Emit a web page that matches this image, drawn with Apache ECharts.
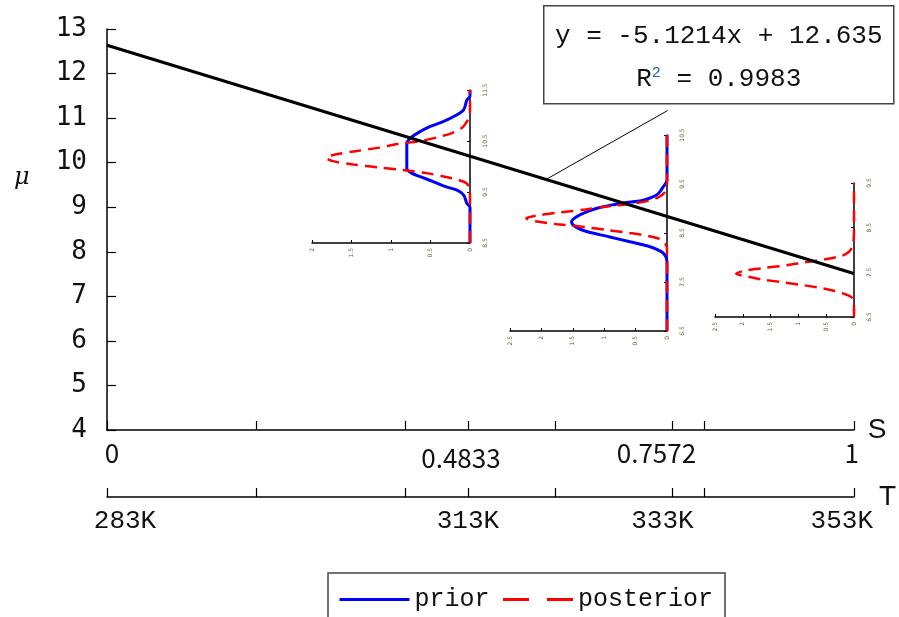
<!DOCTYPE html>
<html>
<head>
<meta charset="utf-8">
<script src="https://cdn.jsdelivr.net/npm/echarts@6/dist/echarts.min.js"></script>
<style>
  html, body { margin: 0; padding: 0; background: #fff; }
  #chart { width: 899px; height: 617px; }
</style>
</head>
<body>
<div id="chart"></div>
<script>
// Linear fit of mu against S
const slope = -5.1214;
const intercept = 12.635;
const rSquared = 0.9983;

// S axis ticks and labelled values
const sTicks = [0, 0.2, 0.4, 0.4833, 0.6, 0.7572, 0.8, 1];
const sLabels = [0, 0.4833, 0.7572, 1];
// Temperatures shown under the labelled S values
const tLabels = ['283K', '313K', '333K', '353K'];

// Vertical (mu) ticks of the three small density plots
const inset1Mu = [8.5, 9.5, 10.5, 11.5];
const inset2Mu = [6.5, 7.5, 8.5, 9.5, 10.5];
const inset3Mu = [6.5, 7.5, 8.5, 9.5];

// Densities as [mu, density] pairs
const prior1 = [[8.5,0],[9.2,0],[9.28,0.04],[9.44,0.08],[9.54,0.17],[9.60,0.30],[9.70,0.46],[9.80,0.63],[9.87,0.74],[9.96,0.80],[10.13,0.80],[10.32,0.80],[10.45,0.80],[10.55,0.76],[10.65,0.67],[10.78,0.51],[10.88,0.34],[11.01,0.17],[11.11,0.08],[11.30,0.04],[11.38,0],[11.5,0]];
const post1 = [[8.5,0],[9.5,0],[9.62,0.02],[9.68,0.05],[9.74,0.15],[9.80,0.32],[9.87,0.55],[9.93,0.85],[9.98,1.15],[10.04,1.48],[10.10,1.72],[10.17,1.82],[10.23,1.72],[10.30,1.45],[10.37,1.15],[10.44,0.92],[10.50,0.62],[10.57,0.42],[10.66,0.22],[10.76,0.10],[10.88,0.04],[11.0,0.01],[11.1,0],[11.5,0]];
const prior2 = [[6.5,0],[7.9,0],[8.09,0.06],[8.22,0.27],[8.32,0.59],[8.42,0.91],[8.53,1.28],[8.63,1.46],[8.73,1.52],[8.83,1.44],[8.93,1.28],[9.02,1.07],[9.11,0.70],[9.17,0.38],[9.28,0.16],[9.44,0.06],[9.58,0],[10.5,0]];
const post2 = [[6.5,0],[8.2,0],[8.3,0.04],[8.38,0.12],[8.44,0.3],[8.50,0.6],[8.56,0.95],[8.62,1.3],[8.68,1.75],[8.74,2.1],[8.80,2.24],[8.86,2.05],[8.92,1.7],[8.98,1.3],[9.04,0.95],[9.10,0.55],[9.16,0.28],[9.24,0.12],[9.34,0.03],[9.45,0],[10.5,0]];
const post3 = [[6.5,0],[6.85,0],[6.95,0.05],[7.03,0.2],[7.10,0.4],[7.16,0.65],[7.22,0.95],[7.28,1.3],[7.34,1.65],[7.40,1.9],[7.47,2.12],[7.54,1.95],[7.60,1.6],[7.66,1.2],[7.72,0.9],[7.79,0.52],[7.87,0.22],[7.95,0.1],[8.05,0.04],[8.2,0.01],[8.4,0],[9.5,0]];

// Leader from the fit line up to the equation box (S values)
const leaderS = [0.588, 0.7507];
const leaderTopMu = 11.17;

const BLUE = '#0000ff';
const RED = '#ff0000';
const INK = '#111';
const MONO = '"Liberation Mono", monospace';

const toXY = arr => arr.map(p => [p[1], p[0]]);
const near = (a, b) => Math.abs(a - b) < 1e-6;

// per-label nudges [dx, dy] for the S and T labels
const sShift = { 0: [5, 0], 1: [-7, 5], 2: [-16, 0], 3: [-2, 0] };
const tShift = { 0: [18, 0], 1: [0, 0], 2: [-10, 0], 3: [-12, 0] };
function richFor(shift, prefix) {
  const r = {};
  Object.keys(shift).forEach(k => {
    const dx = shift[k][0], dy = shift[k][1];
    r[prefix + k] = {
      padding: [dy > 0 ? dy : 0, dx < 0 ? -dx * 2 : 0, 0, dx > 0 ? dx * 2 : 0]
    };
  });
  return r;
}
function labelIndex(v) {
  for (let i = 0; i < sLabels.length; i++) if (near(sLabels[i], v)) return i;
  return 0;
}

function insetX(gridIndex, max) {
  return {
    type: 'value', gridIndex, min: 0, max, interval: 0.5, inverse: true,
    axisLine: { show: true, onZero: false, lineStyle: { color: '#000', width: 1.5 } },
    axisTick: { show: true, inside: true, length: 3, lineStyle: { color: '#000' } },
    axisLabel: { fontSize: 6, rotate: 90, margin: 5, color: '#6a5a30', fontFamily: 'DejaVu Sans' },
    splitLine: { show: false }
  };
}
function insetY(gridIndex, ticks) {
  return {
    type: 'value', gridIndex, position: 'right',
    min: ticks[0], max: ticks[ticks.length - 1],
    axisLine: { show: true, onZero: false, lineStyle: { color: '#000', width: 1.5 } },
    axisTick: { show: true, inside: true, length: 3, customValues: ticks, lineStyle: { color: '#000' } },
    axisLabel: { fontSize: 6, rotate: 90, margin: 12, color: '#6a5a30', fontFamily: 'DejaVu Sans', customValues: ticks },
    splitLine: { show: false }
  };
}
// xi: index of the inset's x axis; its y axis is one lower
function curve(name, data, xi, color, dashed) {
  return {
    name, type: 'line', xAxisIndex: xi, yAxisIndex: xi - 1,
    data: toXY(data), symbol: 'none', smooth: 0.3, z: dashed ? 3 : 2,
    lineStyle: { color, width: dashed ? 2.5 : 3, type: dashed ? [12, 7] : 'solid' },
    itemStyle: { color }
  };
}

const chart = echarts.init(document.getElementById('chart'), null, { renderer: 'canvas' });

chart.setOption({
  backgroundColor: '#fff',
  animation: false,
  grid: [
    { left: 107, top: 29, width: 750, height: 401 },
    { left: 312, top: 90, width: 158, height: 153 },
    { left: 510, top: 135, width: 157, height: 196 },
    { left: 715, top: 183, width: 139, height: 134 }
  ],
  xAxis: [
    {
      type: 'value', gridIndex: 0, min: 0, max: 1, position: 'bottom',
      name: 'S', nameLocation: 'end', nameGap: 14,
      nameTextStyle: { fontFamily: '"Liberation Sans", Arial, sans-serif', fontSize: 28, color: INK },
      axisLine: { show: true, onZero: false, lineStyle: { color: '#000', width: 1.5 } },
      axisTick: { show: true, inside: true, length: 9, customValues: sTicks, lineStyle: { color: '#000', width: 1.2 } },
      axisLabel: {
        customValues: sLabels, margin: 10, color: INK,
        fontFamily: '"Noto Sans CJK SC", sans-serif', fontSize: 26,
        formatter: v => '{s' + labelIndex(v) + '|' + v + '}',
        rich: richFor(sShift, 's')
      },
      splitLine: { show: false }
    },
    {
      type: 'value', gridIndex: 0, min: 0, max: 1, position: 'bottom', offset: 67,
      name: 'T', nameLocation: 'end', nameGap: 14,
      nameTextStyle: { fontFamily: '"Liberation Sans", Arial, sans-serif', fontSize: 28, color: INK },
      axisLine: { show: true, onZero: false, lineStyle: { color: '#000', width: 1.5 } },
      axisTick: { show: true, inside: true, length: 9, customValues: sTicks, lineStyle: { color: '#000', width: 1.2 } },
      axisLabel: {
        customValues: sLabels, margin: 11, color: INK,
        fontFamily: MONO, fontSize: 26,
        formatter: v => { const i = labelIndex(v); return '{t' + i + '|' + tLabels[i] + '}'; },
        rich: richFor(tShift, 't')
      },
      splitLine: { show: false }
    },
    insetX(1, 2),
    insetX(2, 2.5),
    insetX(3, 2.5)
  ],
  yAxis: [
    {
      type: 'value', gridIndex: 0, min: 4, max: 13, interval: 1,
      axisLine: { show: true, onZero: false, lineStyle: { color: '#000', width: 1.5 } },
      axisTick: { show: true, inside: true, length: 9, lineStyle: { color: '#000', width: 1.2 } },
      axisLabel: { margin: 20, color: INK, fontFamily: '"DejaVu Sans Mono", monospace', fontSize: 26 },
      splitLine: { show: false }
    },
    insetY(1, inset1Mu),
    insetY(2, inset2Mu),
    insetY(3, inset3Mu)
  ],
  legend: {
    left: 328, top: 573, orient: 'horizontal',
    padding: [14, 12, 14, 10], itemGap: 12, itemWidth: 70, itemHeight: 14,
    borderColor: '#444', borderWidth: 1.5, backgroundColor: '#fff',
    textStyle: { fontFamily: MONO, fontSize: 25, color: INK },
    itemStyle: { opacity: 0 },
    data: [
      { name: 'prior', lineStyle: { width: 3 } },
      { name: 'posterior', lineStyle: { type: [26, 18], width: 3 } }
    ]
  },
  graphic: [
    {
      type: 'text', left: 14, top: 166,
      style: { text: 'μ', font: 'italic 24px "DejaVu Serif", serif', fill: INK }
    },
    {
      type: 'group', left: 543, top: 5,
      children: [
        { type: 'rect', shape: { x: 0, y: 0, width: 350, height: 98 },
          style: { fill: '#fff', stroke: '#444', lineWidth: 1.5 } },
        { type: 'text', x: 175, y: 30,
          style: { text: 'y = ' + slope + 'x + ' + intercept, font: '26px ' + MONO, fill: INK,
                   textAlign: 'center', textVerticalAlign: 'middle' } },
        { type: 'text', x: 175, y: 73,
          style: {
            text: '{a|R}{b|2}{a| = ' + rSquared + '}',
            textAlign: 'center', textVerticalAlign: 'middle',
            rich: {
              a: { font: '26px ' + MONO, fill: INK },
              b: { font: '15px ' + MONO, fill: '#1a5fb4', verticalAlign: 'top', padding: [0, 0, 12, 0] }
            }
          } }
      ]
    }
  ],
  series: [
    curve('prior', prior1, 2, BLUE, false),
    curve('posterior', post1, 2, RED, true),
    curve('prior', prior2, 3, BLUE, false),
    curve('posterior', post2, 3, RED, true),
    curve('posterior', post3, 4, RED, true),
    {
      name: 'fit', type: 'line', xAxisIndex: 0, yAxisIndex: 0, symbol: 'none', z: 6,
      data: [[0, intercept], [1, intercept + slope]],
      lineStyle: { color: '#000', width: 3 }
    },
    {
      name: 'leader', type: 'line', xAxisIndex: 0, yAxisIndex: 0, symbol: 'none', z: 6,
      data: [[leaderS[0], intercept + slope * leaderS[0]], [leaderS[1], leaderTopMu]],
      lineStyle: { color: '#000', width: 1 }
    }
  ]
});
</script>
</body>
</html>
